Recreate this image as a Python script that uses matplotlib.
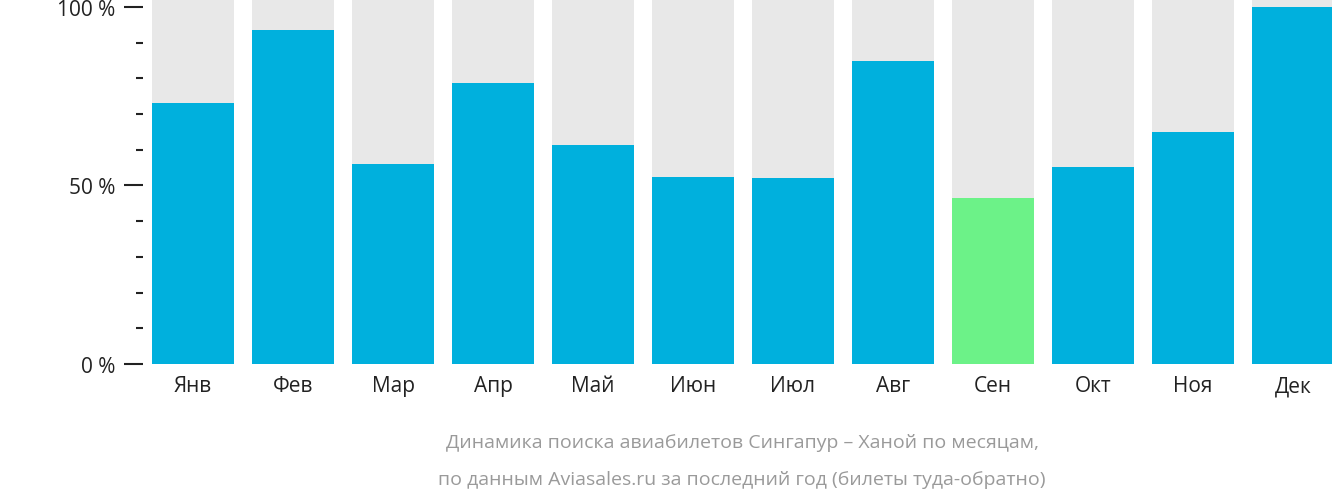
import matplotlib
matplotlib.use('Agg')
import matplotlib.pyplot as plt
from matplotlib.ticker import MultipleLocator

plt.rcParams['font.family'] = 'Open Sans'

months = ['Янв', 'Фев', 'Мар', 'Апр', 'Май', 'Июн', 'Июл', 'Авг', 'Сен', 'Окт', 'Ноя', 'Дек']
values = [73.1, 93.6, 56.0, 78.7, 61.3, 52.4, 52.1, 84.9, 46.5, 55.2, 65.0, 100.0]
highlight = 'Сен'

W, H = 1332, 502
fig = plt.figure(figsize=(W / 100, H / 100), dpi=100)
# axis spans x 143..1343 px, y 0..365 px (top at figure edge)
ax = fig.add_axes([143 / W, (H - 365) / H, 1200 / W, 365 / H])

x = range(len(months))
ymax = 102.2
ax.bar(x, [ymax] * len(months), width=0.82, color='#e8e8e8')
colors = ['#6cf288' if m == highlight else '#00b0dd' for m in months]
ax.bar(x, values, width=0.82, color=colors)

ax.set_xlim(-0.5, 11.5)
ax.set_ylim(0, ymax)
ax.set_xticks(list(x))
ax.set_xticklabels(months, fontsize=15, color='#222222')
ax.tick_params(axis='x', length=0, pad=8)
ax.yaxis.set_major_locator(MultipleLocator(50))
ax.yaxis.set_minor_locator(MultipleLocator(10))
ax.set_yticklabels([])
ax.set_yticks([0, 50, 100])
ax.set_yticklabels(['0 %', '50 %', '100 %'], fontsize=15, color='#222222')
ax.tick_params(axis='y', which='major', length=14, width=1.5, color='#222222', pad=6)
ax.tick_params(axis='y', which='minor', length=5, width=1.5, color='#222222')
for s in ax.spines.values():
    s.set_visible(False)

fig.text(742 / W, 1 - 443 / H, 'Динамика поиска авиабилетов Сингапур – Ханой по месяцам,',
         ha='center', va='center', fontsize=14, color='#9a9a9a')
fig.text(742 / W, 1 - 480 / H, 'по данным Aviasales.ru за последний год (билеты туда-обратно)',
         ha='center', va='center', fontsize=14, color='#9a9a9a')

fig.savefig('out.png', dpi=100, facecolor='white')
